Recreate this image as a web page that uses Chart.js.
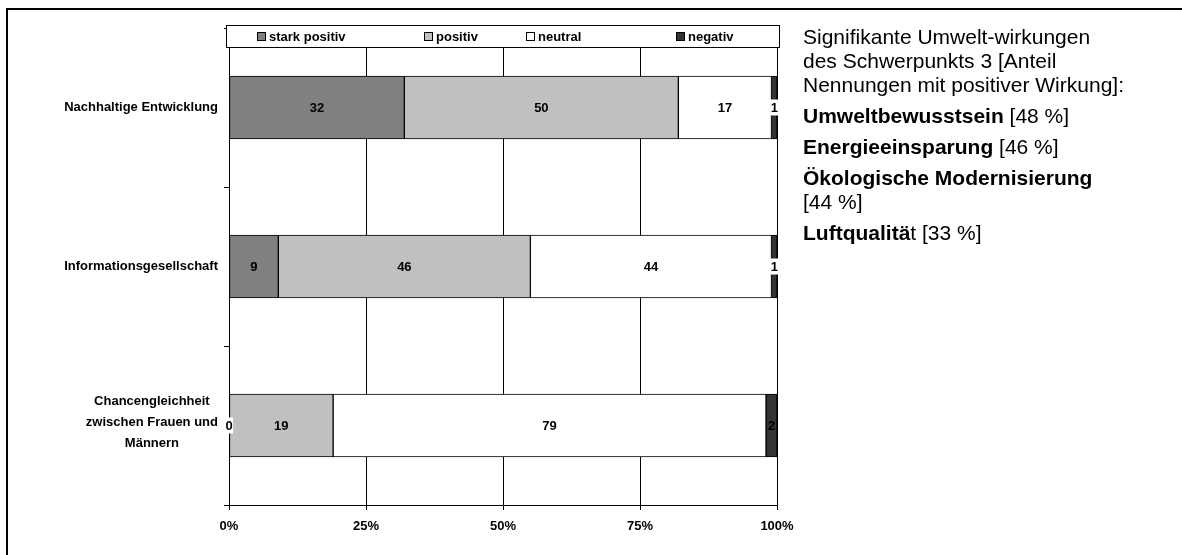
<!DOCTYPE html>
<html><head><meta charset="utf-8">
<script src="https://cdn.jsdelivr.net/npm/chart.js@4/dist/chart.umd.min.js"></script>
<style>
html,body{margin:0;padding:0;background:#fff;}
#wrap{position:relative;width:1182px;height:555px;overflow:hidden;background:#fff;}
#frame{position:absolute;left:6px;top:8px;width:1200px;height:600px;border:2px solid #000;box-sizing:border-box;}
canvas{position:absolute;left:0;top:0;}
#note{position:absolute;left:803px;top:25px;font-family:'Liberation Sans',Arial,sans-serif;font-size:21px;line-height:24px;color:#000;white-space:nowrap;}
#note p{margin:0 0 7px 0;}
</style></head>
<body><div id="wrap"><div id="frame"></div><canvas id="c" width="1182" height="555"></canvas>
<div id="note">
<p>Signifikante Umwelt-wirkungen<br>des Schwerpunkts 3 [Anteil<br>Nennungen mit positiver Wirkung]:</p>
<p><b>Umweltbewusstsein</b> [48 %]</p>
<p><b>Energieeinsparung</b> [46 %]</p>
<p><b>Ökologische Modernisierung</b><br>[44 %]</p>
<p><b>Luftqualitä</b>t [33 %]</p>
</div></div>
<script>
const categories = [["Nachhaltige Entwicklung"], ["Informationsgesellschaft"], ["Chancengleichheit", "zwischen Frauen und", "Männern"]];
const seriesNames = ["stark positiv", "positiv", "neutral", "negativ"];
const starkPositiv = [32, 9, 0];
const positiv = [50, 46, 19];
const neutral = [17, 44, 79];
const negativ = [1, 1, 2];
const xTickValues = [0, 25, 50, 75, 100];

const colors = ["#808080", "#C0C0C0", "#FFFFFF", "#333333"];
const FONT = "'Liberation Sans', Arial, sans-serif";

const ds = [starkPositiv, positiv, neutral, negativ].map((d, i) => ({
  label: seriesNames[i], data: d, backgroundColor: colors[i], borderColor: "#000",
  borderWidth: 1, borderSkipped: false, barThickness: 63
}));

const yLabelPlugin = {
  id: "yLabels",
  afterDraw(chart) {
    const ctx = chart.ctx, ys = chart.scales.y, left = chart.chartArea.left;
    ctx.save();
    ctx.font = "bold 13px " + FONT;
    ctx.fillStyle = "#000";
    ctx.textBaseline = "middle";
    categories.forEach((lines, i) => {
      const cy = ys.getPixelForValue(i);
      const w = Math.max(...lines.map(l => ctx.measureText(l).width));
      const right = left - 11;
      const cx = right - w / 2;
      const lh = 21;
      const y0 = cy - (lines.length - 1) * lh / 2 - 3 * (lines.length > 1 ? 1 : 0);
      ctx.textAlign = "center";
      lines.forEach((l, k) => ctx.fillText(l, cx, y0 + k * lh));
    });
    ctx.restore();
  }
};

const valueLabelPlugin = {
  id: "valueLabels",
  afterDatasetsDraw(chart) {
    const ctx = chart.ctx;
    ctx.save();
    ctx.font = "bold 13px " + FONT;
    ctx.textAlign = "center";
    ctx.textBaseline = "middle";
    chart.data.datasets.forEach((d, di) => {
      const meta = chart.getDatasetMeta(di);
      meta.data.forEach((bar, i) => {
        const v = d.data[i];
        const x = (bar.x + bar.base) / 2, y = bar.y;
        const txt = String(v);
        const tw = ctx.measureText(txt).width;
        if (Math.abs(bar.x - bar.base) < tw + 2) {
          ctx.fillStyle = "#fff";
          ctx.fillRect(x - tw / 2 - 0.5, y - 8, tw + 1, 16);
        }
        ctx.fillStyle = "#000";
        ctx.fillText(txt, x, y + 1);
      });
    });
    ctx.restore();
  }
};

const legendPlugin = {
  id: "boxLegend",
  afterDraw(chart) {
    const ctx = chart.ctx, ca = chart.chartArea;
    const L = ca.left - 3, R = ca.right + 3, T = 25, B = 48;
    ctx.save();
    ctx.fillStyle = "#fff";
    ctx.fillRect(L, T, R - L, B - T);
    ctx.strokeStyle = "#000";
    ctx.lineWidth = 1;
    ctx.strokeRect(L + 0.5, T + 0.5, R - L - 1, B - T - 1);
    const starts = [257, 424, 526, 676];
    ctx.font = "bold 13px " + FONT;
    ctx.textBaseline = "middle";
    ctx.textAlign = "left";
    seriesNames.forEach((n, i) => {
      const x = starts[i], cy = (T + B) / 2;
      ctx.fillStyle = colors[i];
      ctx.fillRect(x, cy - 4.5, 9, 9);
      ctx.strokeStyle = "#000";
      ctx.strokeRect(x + 0.5, cy - 4, 8, 8);
      ctx.fillStyle = "#000";
      ctx.fillText(n, x + 12, cy + 1);
    });
    ctx.restore();
  }
};

new Chart(document.getElementById("c"), {
  type: "bar",
  data: { labels: categories.map(c => c.join(" ")), datasets: ds },
  options: {
    indexAxis: "y",
    responsive: false,
    animation: false,
    layout: { padding: { left: 0, right: 405, top: 28, bottom: 0 } },
    plugins: { legend: { display: false }, tooltip: { enabled: false } },
    scales: {
      x: {
        stacked: true, min: 0, max: 100,
        afterBuildTicks(s) { s.ticks = xTickValues.map(v => ({ value: v })); },
        afterFit(s) { s.height = 50; },
        ticks: { callback: v => v + "%", color: "#000", font: { family: FONT, size: 13, weight: "bold" }, padding: 9 },
        grid: { color: "#000", lineWidth: 1, tickLength: 5, drawTicks: true },
        border: { color: "#000", width: 1 }
      },
      y: {
        stacked: true, offset: true,
        afterFit(s) { s.width = 229; },
        ticks: { display: false },
        grid: { offset: true, drawOnChartArea: false, drawTicks: true, tickLength: 5, color: "#000" },
        border: { color: "#000", width: 1 }
      }
    }
  },
  plugins: [valueLabelPlugin, yLabelPlugin, legendPlugin]
});
</script>
</body></html>
